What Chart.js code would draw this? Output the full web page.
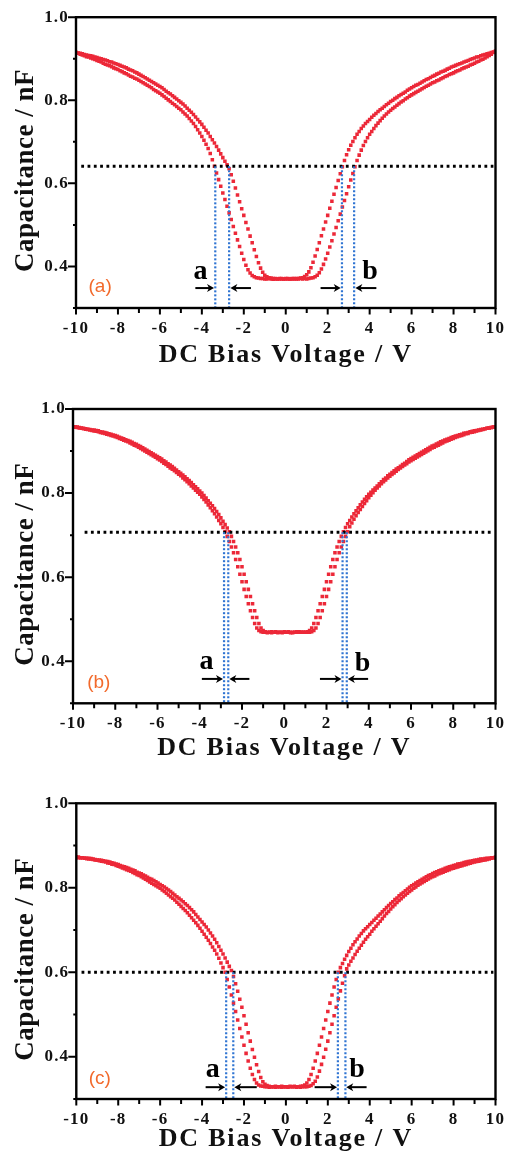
<!DOCTYPE html>
<html><head><meta charset="utf-8">
<script src="https://cdn.jsdelivr.net/npm/chart.js@4.4.1/dist/chart.umd.min.js"></script>
<style>html,body{margin:0;padding:0;background:#fff;}canvas{display:block;}</style>
</head><body>
<canvas id="p0" width="514" height="385"></canvas>
<canvas id="p1" width="514" height="385"></canvas>
<canvas id="p2" width="514" height="385"></canvas>
<script>
// DC bias sweep grid (V)
const VOLTS = [
-10,-9.9,-9.8,-9.7,-9.6,-9.5,-9.4,-9.3,-9.2,-9.1,
-9,-8.9,-8.8,-8.7,-8.6,-8.5,-8.4,-8.3,-8.2,-8.1,
-8,-7.9,-7.8,-7.7,-7.6,-7.5,-7.4,-7.3,-7.2,-7.1,
-7,-6.9,-6.8,-6.7,-6.6,-6.5,-6.4,-6.3,-6.2,-6.1,
-6,-5.9,-5.8,-5.7,-5.6,-5.5,-5.4,-5.3,-5.2,-5.1,
-5,-4.9,-4.8,-4.7,-4.6,-4.5,-4.4,-4.3,-4.2,-4.1,
-4,-3.9,-3.8,-3.7,-3.6,-3.5,-3.4,-3.3,-3.2,-3.1,
-3,-2.9,-2.8,-2.7,-2.6,-2.5,-2.4,-2.3,-2.2,-2.1,
-2,-1.9,-1.8,-1.7,-1.6,-1.5,-1.4,-1.3,-1.2,-1.1,
-1,-0.9,-0.8,-0.7,-0.6,-0.5,-0.4,-0.3,-0.2,-0.1,
0,0.1,0.2,0.3,0.4,0.5,0.6,0.7,0.8,0.9,
1,1.1,1.2,1.3,1.4,1.5,1.6,1.7,1.8,1.9,
2,2.1,2.2,2.3,2.4,2.5,2.6,2.7,2.8,2.9,
3,3.1,3.2,3.3,3.4,3.5,3.6,3.7,3.8,3.9,
4,4.1,4.2,4.3,4.4,4.5,4.6,4.7,4.8,4.9,
5,5.1,5.2,5.3,5.4,5.5,5.6,5.7,5.8,5.9,
6,6.1,6.2,6.3,6.4,6.5,6.6,6.7,6.8,6.9,
7,7.1,7.2,7.3,7.4,7.5,7.6,7.7,7.8,7.9,
8,8.1,8.2,8.3,8.4,8.5,8.6,8.7,8.8,8.9,
9,9.1,9.2,9.3,9.4,9.5,9.6,9.7,9.8,9.9,
10];

// Panel (a) capacitance (nF), two sweep branches
const CAP_A1 = [
.915,.913,.911,.909,.907,.905,.904,.902,.900,.898,
.896,.894,.892,.889,.887,.885,.883,.881,.878,.876,
.874,.871,.869,.866,.864,.861,.858,.856,.853,.851,
.848,.845,.842,.839,.836,.833,.830,.826,.823,.820,
.817,.813,.809,.805,.801,.797,.793,.789,.785,.781,
.777,.772,.767,.762,.756,.750,.744,.737,.729,.721,
.713,.704,.694,.684,.672,.657,.641,.625,.609,.593,
.577,.561,.545,.529,.513,.496,.480,.464,.448,.432,
.417,.403,.392,.384,.378,.375,.373,.372,.371,.371,
.370,.370,.371,.370,.369,.370,.370,.371,.370,.370,
.371,.370,.370,.371,.370,.371,.371,.372,.373,.376,
.380,.387,.397,.410,.425,.441,.457,.474,.490,.507,
.523,.540,.557,.574,.590,.607,.623,.640,.655,.669,
.681,.692,.701,.710,.718,.725,.732,.738,.744,.749,
.754,.759,.764,.768,.773,.777,.781,.785,.789,.793,
.797,.800,.804,.807,.811,.814,.817,.820,.824,.827,
.830,.833,.836,.838,.841,.844,.847,.850,.852,.855,
.858,.860,.863,.865,.868,.870,.872,.875,.877,.880,
.882,.884,.886,.888,.890,.892,.894,.896,.898,.900,
.902,.904,.905,.907,.909,.910,.912,.913,.915,.916,
.918];
const CAP_A2 = [
.915,.914,.913,.912,.910,.909,.908,.907,.906,.904,
.903,.901,.900,.898,.897,.895,.893,.892,.890,.888,
.886,.884,.882,.880,.878,.875,.873,.871,.868,.866,
.863,.860,.857,.854,.851,.848,.845,.842,.839,.836,
.833,.830,.826,.822,.818,.815,.811,.807,.803,.799,
.795,.791,.786,.781,.776,.771,.766,.760,.754,.748,
.742,.735,.728,.721,.713,.705,.697,.689,.680,.671,
.662,.653,.645,.635,.621,.605,.589,.572,.556,.539,
.523,.506,.490,.473,.457,.440,.424,.409,.396,.386,
.379,.375,.373,.372,.371,.371,.370,.370,.371,.370,
.370,.371,.370,.370,.371,.370,.370,.371,.370,.371,
.370,.371,.372,.373,.375,.379,.385,.394,.405,.418,
.432,.447,.462,.478,.494,.510,.526,.543,.559,.575,
.592,.608,.624,.640,.655,.668,.680,.691,.701,.710,
.718,.725,.732,.739,.745,.751,.757,.762,.767,.772,
.776,.780,.784,.788,.792,.796,.799,.803,.806,.810,
.813,.816,.819,.822,.825,.828,.831,.834,.836,.839,
.842,.844,.847,.849,.852,.854,.857,.859,.862,.864,
.866,.869,.871,.873,.876,.878,.880,.882,.885,.887,
.889,.892,.894,.897,.899,.902,.905,.908,.911,.915,
.918];

// Panel (b)
const CAP_B1 = [
.958,.957,.956,.955,.954,.953,.952,.951,.950,.949,
.948,.947,.946,.944,.943,.942,.940,.939,.937,.936,
.934,.932,.930,.928,.926,.924,.922,.919,.917,.914,
.912,.909,.906,.903,.900,.897,.894,.891,.888,.885,
.882,.879,.875,.871,.868,.864,.860,.857,.853,.849,
.845,.841,.836,.832,.827,.822,.817,.812,.807,.802,
.797,.791,.785,.779,.772,.765,.758,.751,.743,.735,
.727,.718,.708,.697,.685,.672,.658,.642,.625,.607,
.589,.571,.554,.537,.520,.504,.490,.479,.473,.470,
.469,.469,.468,.469,.470,.469,.469,.468,.469,.469,
.470,.469,.469,.468,.469,.469,.470,.469,.469,.469,
.469,.470,.473,.479,.490,.504,.520,.537,.554,.571,
.589,.607,.625,.642,.658,.672,.685,.697,.708,.718,
.727,.735,.743,.751,.758,.765,.772,.779,.785,.791,
.797,.802,.807,.812,.817,.822,.827,.832,.836,.841,
.845,.849,.853,.857,.860,.864,.868,.871,.875,.879,
.882,.885,.888,.891,.894,.897,.900,.903,.906,.909,
.912,.914,.917,.919,.922,.924,.926,.928,.930,.932,
.934,.936,.937,.939,.940,.942,.943,.944,.946,.947,
.948,.949,.950,.951,.952,.953,.954,.955,.956,.957,
.958];
const CAP_B2 = [
.958,.957,.957,.956,.955,.954,.953,.952,.951,.950,
.950,.949,.948,.946,.945,.944,.943,.941,.940,.938,
.937,.935,.933,.931,.929,.927,.925,.923,.921,.918,
.916,.913,.911,.908,.905,.902,.899,.896,.893,.890,
.887,.884,.881,.877,.874,.870,.867,.863,.859,.855,
.851,.847,.843,.839,.834,.830,.825,.820,.815,.810,
.805,.800,.794,.788,.782,.776,.770,.763,.756,.749,
.741,.733,.725,.717,.708,.697,.685,.672,.658,.642,
.625,.607,.589,.571,.554,.537,.520,.504,.490,.479,
.473,.470,.469,.469,.468,.469,.470,.469,.469,.468,
.469,.469,.470,.469,.468,.469,.469,.470,.469,.469,
.469,.469,.469,.470,.473,.479,.490,.504,.520,.537,
.554,.571,.589,.607,.625,.642,.658,.672,.685,.697,
.708,.720,.729,.738,.746,.754,.761,.768,.775,.782,
.789,.795,.801,.807,.812,.817,.822,.827,.831,.836,
.840,.844,.848,.852,.856,.860,.863,.867,.870,.874,
.877,.880,.883,.886,.889,.892,.895,.898,.901,.904,
.907,.909,.912,.914,.917,.919,.922,.924,.926,.928,
.930,.932,.934,.936,.937,.939,.941,.942,.944,.945,
.946,.948,.949,.950,.951,.953,.954,.955,.956,.957,
.958];

// Panel (c)
const CAP_C1 = [
.872,.872,.871,.871,.870,.869,.869,.868,.867,.866,
.865,.864,.863,.862,.861,.859,.858,.856,.855,.853,
.851,.849,.847,.845,.843,.841,.839,.836,.834,.831,
.829,.826,.823,.820,.817,.814,.811,.808,.805,.802,
.799,.795,.791,.787,.783,.779,.775,.771,.766,.761,
.756,.751,.746,.741,.735,.729,.723,.717,.711,.704,
.697,.690,.683,.676,.668,.660,.652,.643,.633,.622,
.611,.600,.583,.565,.546,.527,.507,.487,.467,.447,
.427,.408,.390,.373,.358,.346,.338,.333,.331,.330,
.329,.329,.328,.329,.329,.330,.329,.329,.328,.329,
.329,.329,.330,.329,.329,.328,.329,.330,.331,.333,
.338,.346,.358,.373,.390,.408,.427,.447,.467,.487,
.507,.527,.546,.565,.583,.600,.611,.621,.631,.640,
.649,.657,.665,.672,.679,.686,.692,.698,.703,.708,
.713,.718,.723,.728,.733,.738,.743,.748,.753,.758,
.763,.767,.772,.776,.781,.785,.789,.793,.797,.801,
.805,.808,.811,.814,.817,.820,.823,.826,.829,.831,
.834,.836,.838,.840,.842,.844,.846,.848,.850,.851,
.853,.854,.856,.857,.858,.860,.861,.862,.863,.864,
.865,.866,.867,.868,.868,.869,.870,.870,.871,.871,
.872];
const CAP_C2 = [
.872,.872,.871,.871,.870,.870,.869,.869,.868,.867,
.866,.866,.865,.864,.863,.862,.861,.859,.858,.856,
.855,.853,.851,.850,.848,.846,.844,.842,.840,.837,
.835,.833,.830,.828,.825,.822,.820,.817,.814,.811,
.808,.805,.802,.798,.795,.791,.787,.783,.779,.775,
.771,.767,.762,.758,.753,.748,.743,.737,.731,.725,
.719,.713,.707,.700,.693,.686,.678,.670,.661,.652,
.643,.634,.624,.614,.604,.590,.573,.555,.536,.517,
.497,.477,.457,.437,.417,.399,.381,.365,.351,.341,
.335,.332,.330,.329,.329,.328,.329,.329,.330,.329,
.329,.328,.329,.329,.330,.329,.329,.328,.329,.329,
.329,.330,.332,.336,.342,.352,.366,.382,.399,.418,
.437,.457,.477,.497,.517,.537,.556,.574,.592,.608,
.617,.626,.634,.642,.650,.657,.664,.671,.678,.684,
.690,.697,.703,.709,.715,.721,.727,.733,.739,.744,
.750,.755,.760,.765,.770,.774,.779,.783,.787,.791,
.795,.799,.802,.806,.809,.812,.815,.818,.821,.824,
.826,.828,.831,.833,.835,.837,.839,.841,.843,.845,
.846,.848,.849,.851,.852,.854,.855,.857,.858,.860,
.861,.862,.863,.864,.865,.866,.867,.868,.870,.871,
.872];

// Axis ranges and labels
const X_RANGE = [-10, 10];
const Y_RANGE = [0.3, 1.0];
const X_TITLE = 'DC Bias Voltage / V';
const Y_TITLE = 'Capacitance / nF';

// Annotation values per panel
const CROSS_C = [0.641, 0.707, 0.600];
const CROSS_SPAN = [[-9.75, 9.9], [-9.45, 9.9], [-9.75, 9.9]];
const BLUE_V = [[-3.36, -2.70, 2.68, 3.26], [-2.85, -2.65, 2.76, 2.96], [-2.85, -2.51, 2.48, 2.84]];
const ARROW_C = [0.348, 0.358, 0.328];
const ARROWS = [
  [[-4.31, -3.42], [-1.66, -2.64], [1.66, 2.62], [4.32, 3.32]],
  [[-3.90, -2.90], [-1.65, -2.60], [1.69, 2.71], [3.97, 3.01]],
  [[-3.83, -2.90], [-1.39, -2.46], [1.37, 2.44], [3.85, 2.88]]
];
const LETTERS = ['a', 'b'];
const LETTER_POS = [[[-4.07, 0.369], [4.02, 0.369]], [[-3.68, 0.382], [3.70, 0.378]], [[-3.49, 0.353], [3.39, 0.353]]];
const TAGS = ['(a)', '(b)', '(c)'];
const TAG_POS = [[-8.85, 0.352], [-8.78, 0.350], [-8.88, 0.349]];

const SERIES_1 = [CAP_A1, CAP_B1, CAP_C1];
const SERIES_2 = [CAP_A2, CAP_B2, CAP_C2];

// Layout / style
const BOX = [
  {top: 15, right: 15, yw: 76, xh: 77, tpad: 14},
  {top: 24, right: 15.7, yw: 73, xh: 66.7, tpad: 6},
  {top: 33.3, right: 15, yw: 76.3, xh: 56, tpad: 0}
];
const RED = '#ec2838', BLUE = '#2f74d2', ORANGE = '#f26a2c', INK = '#111';
const SERIF = "'Liberation Serif','Times New Roman',serif";
const SANS = "'Liberation Sans',Arial,sans-serif";

const annot = {
  id: 'annot',
  afterLayout(chart) {
    if (chart._titlesPatched) return;
    chart._titlesPatched = true;
    const ys = chart.scales.y, xs = chart.scales.x;
    const oy = ys.drawTitle, ox = xs.drawTitle;
    ys.drawTitle = function () { const c = this.ctx; c.save(); c.letterSpacing = '0.5px'; c.translate(0, 8); oy.call(this); c.restore(); };
    xs.drawTitle = function () { const c = this.ctx; c.save(); c.letterSpacing = '1.8px'; ox.call(this); c.restore(); };
  },
  beforeDraw(chart) { chart.ctx.letterSpacing = '1.2px'; },
  afterDatasetsDraw(chart, args, opts) {
    const i = opts.idx, ctx = chart.ctx, xs = chart.scales.x, ys = chart.scales.y, ca = chart.chartArea;
    ctx.save();
    ctx.letterSpacing = '0px';
    // arrows
    ctx.strokeStyle = '#000'; ctx.fillStyle = '#000'; ctx.lineWidth = 2; ctx.lineCap = 'butt';
    const ay = ys.getPixelForValue(ARROW_C[i]);
    ARROWS[i].forEach(([v1, v2]) => {
      const x1 = xs.getPixelForValue(v1), x2 = xs.getPixelForValue(v2), d = Math.sign(x2 - x1);
      ctx.beginPath(); ctx.moveTo(x1, ay); ctx.lineTo(x2 - d * 4, ay); ctx.stroke();
      ctx.beginPath(); ctx.moveTo(x2 - d * 7, ay - 4); ctx.lineTo(x2, ay); ctx.lineTo(x2 - d * 7, ay + 4);
      ctx.lineTo(x2 - d * 5, ay); ctx.closePath(); ctx.fill();
    });
    // letters a / b
    ctx.fillStyle = '#000'; ctx.font = 'bold 28px ' + SERIF; ctx.textAlign = 'center'; ctx.textBaseline = 'alphabetic';
    LETTERS.forEach((s, k) => {
      const [v, c] = LETTER_POS[i][k];
      ctx.fillText(s, xs.getPixelForValue(v), ys.getPixelForValue(c));
    });
    // panel tag
    ctx.fillStyle = ORANGE; ctx.font = '19px ' + SANS; ctx.textBaseline = 'middle';
    ctx.fillText(TAGS[i], xs.getPixelForValue(TAG_POS[i][0]), ys.getPixelForValue(TAG_POS[i][1]));
    // frame
    ctx.strokeStyle = '#000'; ctx.lineWidth = 2.4;
    ctx.strokeRect(ca.left, ca.top, ca.right - ca.left, ca.bottom - ca.top);
    // tick marks
    ctx.lineWidth = 2;
    ctx.beginPath();
    xs.ticks.forEach(t => {
      const px = xs.getPixelForValue(t.value), major = Math.round(t.value) % 2 === 0;
      ctx.moveTo(px, ca.bottom); ctx.lineTo(px, ca.bottom + (major ? 6.5 : 5));
    });
    ys.ticks.forEach(t => {
      const py = ys.getPixelForValue(t.value), r = Math.round(t.value * 10), major = r % 2 === 0 && r >= 4;
      ctx.moveTo(ca.left, py); ctx.lineTo(ca.left - (major ? 8 : 3), py);
    });
    ctx.stroke();
    ctx.restore();
  }
};

function makePanel(i) {
  const b = BOX[i];
  const pts = arr => VOLTS.map((v, k) => ({x: v, y: arr[k]}));
  const red = arr => ({data: pts(arr), pointStyle: 'rect', pointRadius: 2.5, pointHoverRadius: 2.5,
    pointBorderWidth: 0, backgroundColor: RED, borderColor: RED, showLine: false, order: 3});
  const datasets = [red(SERIES_1[i]), red(SERIES_2[i])];
  datasets.push({data: [{x: CROSS_SPAN[i][0], y: CROSS_C[i]}, {x: CROSS_SPAN[i][1], y: CROSS_C[i]}],
    showLine: true, borderColor: '#000', borderWidth: 3, borderDash: [2.8, 3.5], pointRadius: 0, order: 1});
  BLUE_V[i].forEach(v => datasets.push({data: [{x: v, y: CROSS_C[i]}, {x: v, y: Y_RANGE[0]}],
    showLine: true, borderColor: BLUE, borderWidth: 2.2, borderDash: [2, 2], pointRadius: 0, order: 0}));
  return new Chart(document.getElementById('p' + i), {
    type: 'scatter',
    data: {datasets},
    plugins: [annot],
    options: {
      responsive: false, devicePixelRatio: 1, animation: false,
      layout: {padding: {top: b.top, right: b.right, left: 0, bottom: 0}},
      plugins: {legend: {display: false}, tooltip: {enabled: false}, annot: {idx: i}},
      scales: {
        x: {
          type: 'linear', min: X_RANGE[0], max: X_RANGE[1],
          grid: {display: false, drawTicks: false}, border: {display: false},
          ticks: {stepSize: 1, autoSkip: false, maxRotation: 0, padding: 10, color: INK,
            font: {family: SERIF, size: 17, weight: 'bold'},
            callback: v => (Math.round(v) % 2 === 0 ? String(Math.round(v)) : '')},
          title: {display: true, text: X_TITLE, color: INK, font: {family: SERIF, size: 26, weight: 'bold'},
            padding: {top: 0, bottom: b.tpad}},
          afterFit: s => { s.height = b.xh; }
        },
        y: {
          type: 'linear', min: Y_RANGE[0], max: Y_RANGE[1],
          grid: {display: false, drawTicks: false}, border: {display: false},
          ticks: {stepSize: 0.1, autoSkip: false, padding: 7, color: INK,
            font: {family: SERIF, size: 17, weight: 'bold'},
            callback: v => { const r = Math.round(v * 10); return (r % 2 === 0 && r >= 4) ? (r / 10).toFixed(1) : ''; }},
          title: {display: true, text: Y_TITLE, color: INK, font: {family: SERIF, size: 27, weight: 'bold'},
            padding: {top: 10, bottom: 0}},
          afterFit: s => { s.width = b.yw; }
        }
      }
    }
  });
}
[0, 1, 2].forEach(makePanel);
</script>
</body></html>
